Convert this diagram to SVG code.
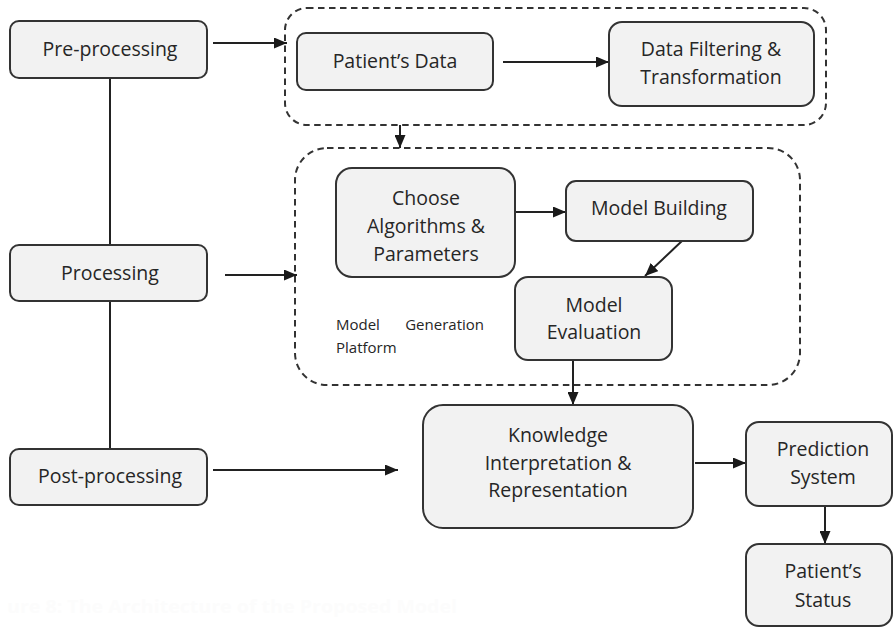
<svg xmlns="http://www.w3.org/2000/svg" width="894" height="628" viewBox="0 0 894 628">
<defs>
<marker id="ah" viewBox="0 0 13 11" refX="13" refY="5.5" markerWidth="13" markerHeight="11" markerUnits="userSpaceOnUse" orient="auto">
<path d="M0,0 L13,5.5 L0,11 Z" fill="#1a1a1a"/>
</marker>
<style>
.box{fill:#f2f2f2;stroke:#333;stroke-width:2}
.grp{fill:none;stroke:#333;stroke-width:2;stroke-dasharray:6.5 4.5}
.t{font-family:"Open Sans","Noto Sans",sans-serif;font-size:19.5px;fill:#262626;text-anchor:middle}
.s{font-family:"Open Sans","Noto Sans",sans-serif;font-size:15px;fill:#262626}
.c{fill:none;stroke:#222;stroke-width:2}
.ca{fill:none;stroke:#222;stroke-width:2;marker-end:url(#ah)}
.cap{font-family:"Open Sans","Noto Sans",sans-serif;font-size:18px;font-weight:bold;fill:#fcfcfc}
</style>
</defs>
<rect width="894" height="628" fill="#fff"/>
<g id="group-preprocessing"><rect class="grp" x="285" y="8" width="541" height="117" rx="22"/></g>
<g id="group-model-generation"><rect class="grp" x="295" y="148" width="505" height="237" rx="32"/>
<text class="s" y="330"><tspan x="336">Model</tspan><tspan x="484" text-anchor="end">Generation</tspan></text>
<text class="s" x="336" y="353">Platform</text></g>
<g id="connectors">
<line class="c" x1="110" y1="78" x2="110" y2="245"/>
<line class="c" x1="110" y1="301" x2="110" y2="449"/>
<line class="ca" x1="213" y1="43" x2="287" y2="43"/>
<line class="ca" x1="225" y1="275" x2="297" y2="275"/>
<line class="ca" x1="213" y1="470" x2="398" y2="470"/>
<line class="ca" x1="503" y1="62" x2="609" y2="62"/>
<line class="ca" x1="400" y1="125" x2="400" y2="148"/>
<line class="ca" x1="515" y1="212" x2="566" y2="212"/>
<line class="ca" x1="683" y1="240" x2="645" y2="276"/>
<line class="ca" x1="573" y1="360" x2="573" y2="405"/>
<line class="ca" x1="695" y1="463" x2="746" y2="463"/>
<line class="ca" x1="825" y1="506" x2="825" y2="544"/>
</g>
<g id="pre-processing"><rect class="box" x="10" y="21" width="197" height="57" rx="9"/><text class="t" x="110" y="56">Pre-processing</text></g>
<g id="processing"><rect class="box" x="10" y="245" width="197" height="56" rx="9"/><text class="t" x="110" y="280">Processing</text></g>
<g id="post-processing"><rect class="box" x="10" y="449" width="197" height="56" rx="9"/><text class="t" x="110" y="483">Post-processing</text></g>
<g id="patients-data"><rect class="box" x="297" y="33" width="196" height="57" rx="9"/><text class="t" x="395" y="68">Patient’s Data</text></g>
<g id="data-filtering"><rect class="box" x="609" y="22" width="205" height="84" rx="13"/><text class="t" x="711" y="56">Data Filtering &amp;</text><text class="t" x="711" y="84">Transformation</text></g>
<g id="choose-algorithms"><rect class="box" x="336" y="168" width="179" height="109" rx="16"/><text class="t" x="426" y="205">Choose</text><text class="t" x="426" y="233">Algorithms &amp;</text><text class="t" x="426" y="261">Parameters</text></g>
<g id="model-building"><rect class="box" x="566" y="181" width="187" height="60" rx="10"/><text class="t" x="659" y="215">Model Building</text></g>
<g id="model-evaluation"><rect class="box" x="515" y="277" width="157" height="83" rx="13"/><text class="t" x="594" y="312">Model</text><text class="t" x="594" y="339">Evaluation</text></g>
<g id="knowledge"><rect class="box" x="423" y="405" width="270" height="123" rx="20"/><text class="t" x="558" y="442">Knowledge</text><text class="t" x="558" y="470">Interpretation &amp;</text><text class="t" x="558" y="497">Representation</text></g>
<g id="prediction-system"><rect class="box" x="746" y="422" width="146" height="84" rx="13"/><text class="t" x="823" y="456">Prediction</text><text class="t" x="823" y="484">System</text></g>
<g id="patients-status"><rect class="box" x="746" y="544" width="146" height="82" rx="13"/><text class="t" x="823" y="578">Patient’s</text><text class="t" x="823" y="607">Status</text></g>
<text class="cap" x="7" y="613" textLength="450" lengthAdjust="spacingAndGlyphs">ure 8: The Architecture of the Proposed Model</text>
</svg>
